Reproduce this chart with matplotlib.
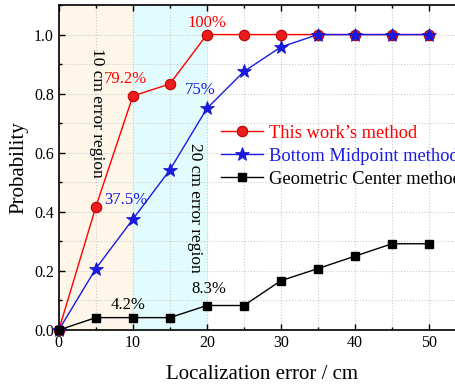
import matplotlib
matplotlib.use('Agg')
import matplotlib.pyplot as plt
from matplotlib.ticker import MultipleLocator

plt.rcParams['font.family'] = ['Liberation Serif', 'DejaVu Serif']
plt.rcParams['mathtext.fontset'] = 'stix'

# data
x = [0, 5, 10, 15, 20, 25, 30, 35, 40, 45, 50]
this_work = [0, 0.417, 0.792, 0.833, 1.0, 1.0, 1.0, 1.0, 1.0, 1.0, 1.0]
bottom_mid = [0, 0.208, 0.375, 0.542, 0.75, 0.875, 0.958, 1.0, 1.0, 1.0, 1.0]
geo_center = [0, 0.042, 0.042, 0.042, 0.083, 0.083, 0.167, 0.208, 0.25, 0.292, 0.292]

labels = ["This work\u2019s method", "Bottom Midpoint method", "Geometric Center method"]

fig = plt.figure(figsize=(4.56, 3.86), dpi=100)
ax = fig.add_axes([0.129, 0.145, 0.893, 0.842])

# error regions
ax.axvspan(0, 10, color='#FDF6E9', zorder=0)
ax.axvspan(10, 20, color='#E2FBFC', zorder=0)

ax.plot(x, this_work, color='red', lw=1, marker='o', ms=7.5,
        mfc='#EE1C1C', mec='#B80000', mew=0.8, label=labels[0], zorder=3, clip_on=False)
ax.plot(x, bottom_mid, color='#1A1AE6', lw=1, marker='*', ms=10,
        mfc='#1A1AE6', mec='#1010C0', mew=0.5, label=labels[1], zorder=4, clip_on=False)
ax.plot(x, geo_center, color='black', lw=1, marker='s', ms=6.2,
        mfc='black', mec='black', label=labels[2], zorder=5, clip_on=False)

ax.set_xlim(0, 55)
ax.set_ylim(0, 1.1)
ax.xaxis.set_major_locator(MultipleLocator(10))
ax.xaxis.set_minor_locator(MultipleLocator(5))
ax.yaxis.set_major_locator(MultipleLocator(0.2))
ax.yaxis.set_minor_locator(MultipleLocator(0.1))
ax.yaxis.set_major_formatter(plt.FormatStrFormatter('%.1f'))
ax.tick_params(which='both', direction='in', top=True, right=True, labelsize=11.5)
ax.tick_params(which='major', length=4, width=1)
ax.tick_params(which='minor', length=2.5, width=1)
ax.grid(True, which='both', ls=':', color='#CCCCCC', lw=0.8, zorder=1)
ax.set_axisbelow(True)
for s in ax.spines.values():
    s.set_linewidth(1.2)

ax.set_xlabel('Localization error / cm', fontsize=15, labelpad=10)
ax.set_ylabel('Probability', fontsize=15, labelpad=4)

ax.text(5.2, 0.735, '10 cm error region', rotation=-90, ha='center', va='center', fontsize=12.5)
ax.text(18.4, 0.415, '20 cm error region', rotation=-90, ha='center', va='center', fontsize=12.5)

ax.text(9, 0.835, '79.2%', color='red', ha='center', fontsize=12)
ax.text(20, 1.025, '100%', color='red', ha='center', fontsize=12)
ax.text(19.1, 0.80, '75%', color='#1A1AE6', ha='center', fontsize=12)
ax.text(9, 0.425, '37.5%', color='#1A1AE6', ha='center', fontsize=12)
ax.text(9.3, 0.07, '4.2%', color='black', ha='center', fontsize=12)
ax.text(20.3, 0.125, '8.3%', color='black', ha='center', fontsize=12)

leg = ax.legend(loc='center left', bbox_to_anchor=(0.38, 0.535), frameon=False,
                fontsize=13.3, handlelength=2.3, handletextpad=0.3, labelspacing=0.33,
                borderaxespad=0)
for t, c in zip(leg.get_texts(), ['red', '#1A1AE6', 'black']):
    t.set_color(c)

fig.savefig('out.png', dpi=100)
